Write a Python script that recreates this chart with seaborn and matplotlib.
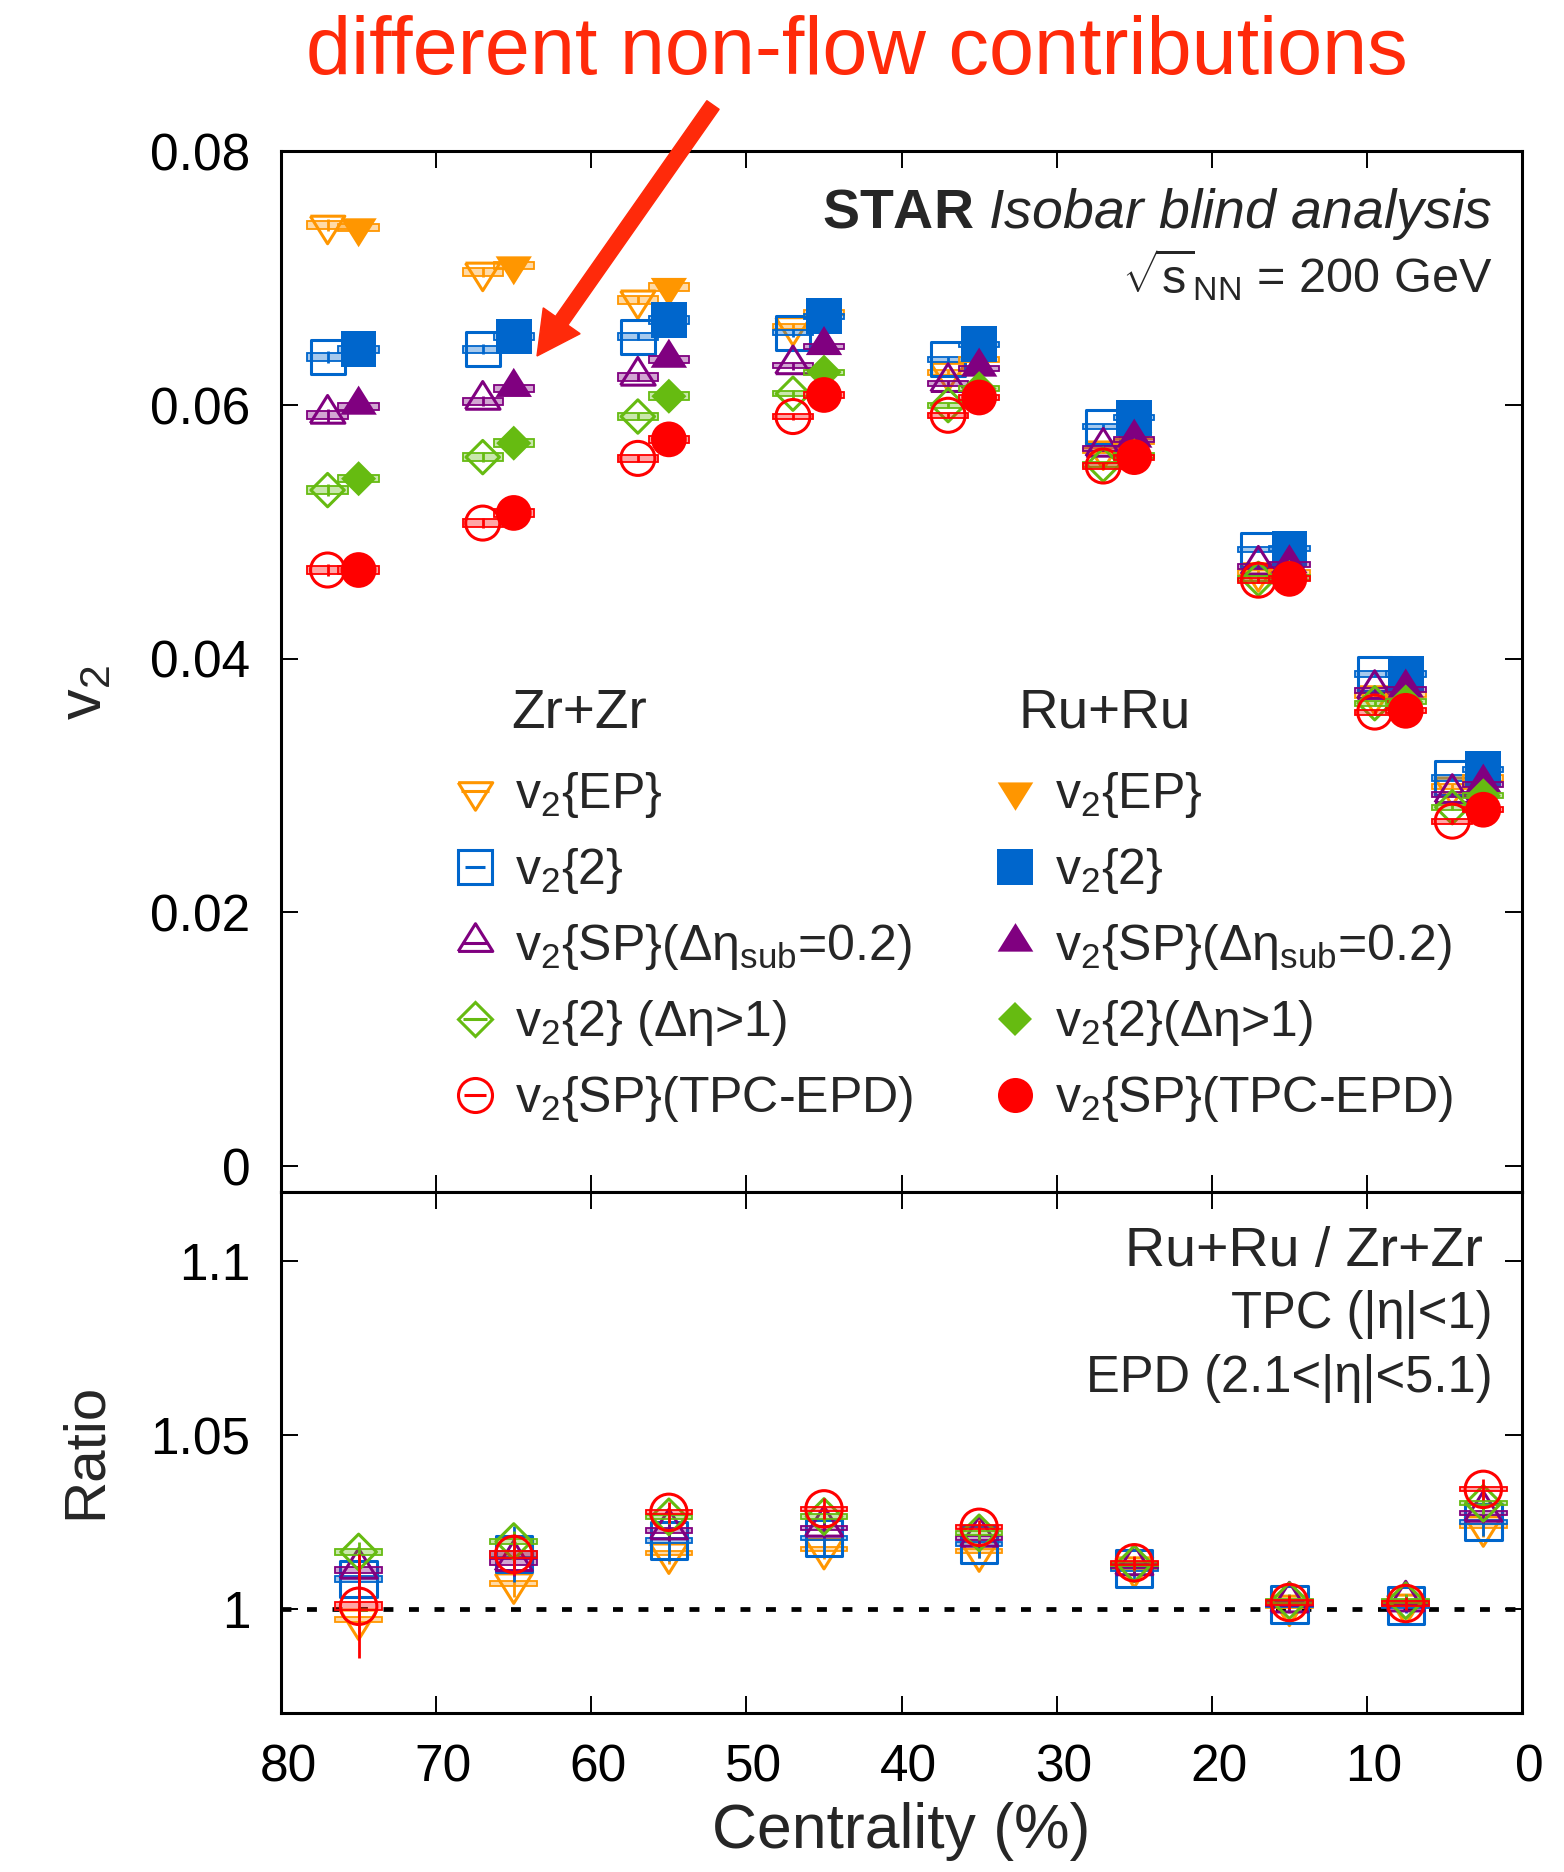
import numpy as np
import pandas as pd
import matplotlib
matplotlib.use("Agg")
import matplotlib.pyplot as plt
import seaborn as sns
from matplotlib.patches import Rectangle, FancyArrow
from matplotlib.lines import Line2D
from matplotlib.colors import to_rgba
from matplotlib.transforms import ScaledTranslation
from matplotlib.legend_handler import HandlerTuple

# ---------------- data ----------------
cent_ru = [75, 65, 55, 45, 35, 25, 15, 7.5, 2.5]
cent_zr = [77, 67, 57, 47, 37, 27, 17, 9.5, 4.5]

zr_ep   = [0.0742, 0.0705, 0.0683, 0.0662, 0.0626, 0.0564, 0.0468, 0.0371, 0.0299]
zr_v22  = [0.0638, 0.0644, 0.0654, 0.0657, 0.0636, 0.0583, 0.0486, 0.0388, 0.0306]
zr_sp   = [0.0592, 0.0603, 0.0622, 0.0631, 0.0617, 0.0566, 0.0473, 0.0375, 0.0293]
zr_deta = [0.0533, 0.0559, 0.0591, 0.0609, 0.0600, 0.0553, 0.0463, 0.0365, 0.0283]
zr_tpc  = [0.0470, 0.0507, 0.0558, 0.0591, 0.0592, 0.0552, 0.0462, 0.0358, 0.0272]

ru_ep   = [0.0740, 0.0710, 0.0693, 0.0673, 0.0636, 0.0571, 0.0468, 0.0372, 0.0306]
ru_v22  = [0.0644, 0.0654, 0.0667, 0.0670, 0.0648, 0.0590, 0.0487, 0.0388, 0.0313]
ru_sp   = [0.0599, 0.0613, 0.0636, 0.0646, 0.0629, 0.0573, 0.0474, 0.0376, 0.0301]
ru_deta = [0.0542, 0.0570, 0.0607, 0.0626, 0.0613, 0.0560, 0.0464, 0.0366, 0.0292]
ru_tpc  = [0.0470, 0.0515, 0.0573, 0.0608, 0.0606, 0.0559, 0.0463, 0.0359, 0.0281]

v2_stat = [0.0005, 0.0004, 0.0003, 0.0003, 0.0002, 0.0002, 0.0002, 0.0002, 0.0002]
v2_sys  = [0.0003, 0.0003, 0.0003, 0.0002, 0.0002, 0.0002, 0.0002, 0.0002, 0.0002]

r_ep   = [0.9970, 1.0074, 1.0160, 1.0173, 1.0166, 1.0120, 1.0010, 1.0013, 1.0238]
r_v22  = [1.0086, 1.0158, 1.0197, 1.0205, 1.0186, 1.0116, 1.0013, 1.0010, 1.0250]
r_sp   = [1.0113, 1.0135, 1.0226, 1.0234, 1.0205, 1.0123, 1.0016, 1.0019, 1.0277]
r_deta = [1.0164, 1.0194, 1.0265, 1.0266, 1.0219, 1.0130, 1.0024, 1.0024, 1.0304]
r_tpc  = [1.0008, 1.0157, 1.0278, 1.0288, 1.0235, 1.0133, 1.0019, 1.0016, 1.0344]

r_err_ep   = [0.004, 0.004, 0.003, 0.003, 0.002, 0.002, 0.002, 0.002, 0.003]
r_err_v22  = [0.005, 0.008, 0.006, 0.005, 0.004, 0.003, 0.002, 0.002, 0.004]
r_err_sp   = [0.004, 0.004, 0.003, 0.003, 0.002, 0.002, 0.002, 0.002, 0.003]
r_err_deta = [0.003, 0.003, 0.002, 0.002, 0.002, 0.002, 0.002, 0.002, 0.003]
r_err_tpc  = [0.015, 0.006, 0.003, 0.003, 0.002, 0.002, 0.002, 0.002, 0.003]
r_sys      = [0.0008, 0.0008, 0.0006, 0.0006, 0.0006, 0.0006, 0.0006, 0.0006, 0.0006]
r_sys_tpc  = [0.0012, 0.0010, 0.0006, 0.0006, 0.0006, 0.0006, 0.0006, 0.0006, 0.0006]

labels_zr = [r"v$_2${EP}", r"v$_2${2}", r"v$_2${SP}(Δη$_{\rm sub}$=0.2)",
             r"v$_2${2} (Δη>1)", r"v$_2${SP}(TPC-EPD)"]
labels_ru = [r"v$_2${EP}", r"v$_2${2}", r"v$_2${SP}(Δη$_{\rm sub}$=0.2)",
             r"v$_2${2}(Δη>1)", r"v$_2${SP}(TPC-EPD)"]
x_ticks = [80, 70, 60, 50, 40, 30, 20, 10, 0]
v2_ticks = [0, 0.02, 0.04, 0.06, 0.08]
v2_tick_labels = ["0", "0.02", "0.04", "0.06", "0.08"]
r_ticks = [1.0, 1.05, 1.1]
r_tick_labels = ["1", "1.05", "1.1"]

# ---------------- style ----------------
sns.set_theme(style="ticks")
plt.rcParams["font.family"] = ["Liberation Sans", "DejaVu Sans"]
plt.rcParams["mathtext.fontset"] = "custom"
plt.rcParams["mathtext.rm"] = "Liberation Sans"
plt.rcParams["mathtext.it"] = "Liberation Sans:italic"
plt.rcParams["mathtext.bf"] = "Liberation Sans:bold"
plt.rcParams["mathtext.sf"] = "Liberation Sans"

C_OR = "#ff9600"
C_BL = "#0066cc"
C_PU = "#800080"
C_GR = "#66bb11"
C_RD = "#ff0000"
C_AR = "#ff2a0a"

TRI_UP = [(-0.875, -0.4), (0.875, -0.4), (0.0, 1.0), (-0.875, -0.4)]
TRI_DN = [(-0.92, 0.47), (0.92, 0.47), (0.0, -1.0), (-0.92, 0.47)]

# marker, size(pt), color, legend inner line length(pt)
series_style = [
    (TRI_DN, 27.0, C_OR, 20),
    ("s", 24.5, C_BL, 15),
    (TRI_UP, 28.5, C_PU, 19),
    ("D", 17.0, C_GR, 17),
    ("o", 24.5, C_RD, 16),
]
zr_vals = [zr_ep, zr_v22, zr_sp, zr_deta, zr_tpc]
ru_vals = [ru_ep, ru_v22, ru_sp, ru_deta, ru_tpc]
r_vals = [r_ep, r_v22, r_sp, r_deta, r_tpc]
r_errs = [r_err_ep, r_err_v22, r_err_sp, r_err_deta, r_err_tpc]
r_syss = [r_sys, r_sys, r_sys, r_sys, r_sys_tpc]

fig = plt.figure(figsize=(15.64, 18.72), dpi=100)
ax = fig.add_axes([0.1797, 0.3635, 0.7935, 0.5556])
ax2 = fig.add_axes([0.1797, 0.0847, 0.7935, 0.2788])


def sys_boxes(axis, xs, ys, hs, hw, col, z):
    for xv, yv, hv in zip(xs, ys, hs):
        axis.add_patch(Rectangle((xv - hw, yv - hv), 2 * hw, 2 * hv,
                                 facecolor=to_rgba(col, 0.35), edgecolor=col,
                                 lw=1.3, zorder=z))


def draw_points(axis, xs, ys, marker, ms, col, filled, z):
    df = pd.DataFrame({"x": xs, "y": ys})
    if filled:
        sns.scatterplot(data=df, x="x", y="y", ax=axis, marker=marker, s=ms ** 2,
                        color=col, edgecolor="none", linewidth=0, zorder=z,
                        legend=False)
    else:
        sns.scatterplot(data=df, x="x", y="y", ax=axis, marker=marker, s=ms ** 2,
                        facecolor="none", edgecolor=col, linewidth=2.2, zorder=z,
                        legend=False)


# ---------------- top panel ----------------
for i, ((mk, ms, col, _), yv) in enumerate(zip(series_style, zr_vals)):
    z = 3 + i * 0.1
    sys_boxes(ax, cent_zr, yv, v2_sys, 1.3, col, z)
    ax.errorbar(cent_zr, yv, yerr=v2_stat, fmt="none", ecolor=col, elinewidth=2,
                capsize=0, zorder=z)
    draw_points(ax, cent_zr, yv, mk, ms, col, False, z + 0.05)
for i, ((mk, ms, col, _), yv) in enumerate(zip(series_style, ru_vals)):
    z = 4 + i * 0.1
    sys_boxes(ax, cent_ru, yv, v2_sys, 1.3, col, z)
    ax.errorbar(cent_ru, yv, yerr=v2_stat, fmt="none", ecolor=col, elinewidth=2,
                capsize=0, zorder=z)
    draw_points(ax, cent_ru, yv, mk, ms * 1.05, col, True, z + 0.05)

ax.set_xlim(80, 0)
ax.set_ylim(-0.002, 0.08)
ax.set_xticks(x_ticks)
ax.set_xticklabels([])
ax.set_yticks(v2_ticks)
ax.set_yticklabels(v2_tick_labels)
ax.set_xlabel("")
ax.set_ylabel("")

# ---------------- ratio panel ----------------
ax2.axhline(1.0, color="black", lw=3.4, ls=(0, (2.1, 3.3)), zorder=2)
for i, ((mk, ms, col, _), yv, ev, sv) in enumerate(zip(series_style, r_vals, r_errs, r_syss)):
    z = 3 + i * 0.1
    sys_boxes(ax2, cent_ru, yv, sv, 1.5, col, z)
    ax2.errorbar(cent_ru, yv, yerr=ev, fmt="none", ecolor=col, elinewidth=2,
                 capsize=0, zorder=z)
    draw_points(ax2, cent_ru, yv, mk, ms * 1.07, col, False, z + 0.05)

ax2.set_xlim(80, 0)
ax2.set_ylim(0.97, 1.12)
ax2.set_xticks(x_ticks)
ax2.set_xticklabels([str(t) for t in x_ticks])
ax2.set_yticks(r_ticks)
ax2.set_yticklabels(r_tick_labels)
ax2.set_xlabel("")
ax2.set_ylabel("")

for a in (ax, ax2):
    for sp in a.spines.values():
        sp.set_visible(True)
        sp.set_linewidth(2.2)
        sp.set_color("black")
    a.tick_params(axis="both", which="major", direction="in", length=12,
                  width=1.4, top=True, right=True, labelsize=37, colors="black")
    a.tick_params(axis="y", pad=22)
    a.tick_params(axis="x", pad=22)

shift = ScaledTranslation(0.07, 0, fig.dpi_scale_trans)
for lab in ax2.get_xticklabels():
    lab.set_transform(lab.get_transform() + shift)

# ---------------- legend ----------------
h_zr, h_ru = [], []
for mk, ms, col, ll in series_style:
    mark = Line2D([], [], ls="none", marker=mk, ms=ms, mfc="none", mec=col, mew=2.2)
    bar = Line2D([], [], ls="none", marker="_", ms=ll, mec=col, mew=2.2)
    h_zr.append((mark, bar))
    h_ru.append(Line2D([], [], ls="none", marker=mk, ms=ms * 1.03, mfc=col, mec=col, mew=0))
leg_kw = dict(fontsize=36, frameon=False, loc="upper left", borderpad=0,
              borderaxespad=0, handlelength=1.0, handletextpad=0.31,
              labelspacing=0.52)
leg1 = ax.legend(h_zr, labels_zr, bbox_to_anchor=(0.136, 0.405),
                 handler_map={tuple: HandlerTuple(ndivide=1)}, **leg_kw)
ax.add_artist(leg1)
ax.legend(h_ru, labels_ru, bbox_to_anchor=(0.571, 0.405), **leg_kw)
ax.text(0.1854, 0.4458, "Zr+Zr", transform=ax.transAxes, fontsize=39.5,
        ha="left", va="baseline")
ax.text(0.594, 0.4458, "Ru+Ru", transform=ax.transAxes, fontsize=39.5,
        ha="left", va="baseline")

# ---------------- annotations ----------------
ax.text(0.976, 0.9265, r"$\bf{STAR}$ $\it{Isobar\ blind\ analysis}$",
        transform=ax.transAxes, fontsize=40, ha="right", va="baseline")
ax.text(0.976, 0.8634, r"$\sqrt{\rm s}_{\rm NN}$ = 200 GeV",
        transform=ax.transAxes, fontsize=35, ha="right", va="baseline")

ax2.text(0.9686, 0.858, "Ru+Ru / Zr+Zr", transform=ax2.transAxes, fontsize=40,
         ha="right", va="baseline")
ax2.text(0.976, 0.7386, "TPC (|η|<1)", transform=ax2.transAxes, fontsize=36.5,
         ha="right", va="baseline")
ax2.text(0.976, 0.616, "EPD (2.1<|η|<5.1)", transform=ax2.transAxes, fontsize=36.5,
         ha="right", va="baseline")

fig.text(0.055, 0.630, r"v$_2$", rotation=90, fontsize=44, ha="center", va="center")
fig.text(0.055, 0.225, "Ratio", rotation=90, fontsize=42, ha="center", va="center")
fig.text(0.5764, 0.0128, "Centrality (%)", fontsize=45, ha="center", va="baseline")

fig.text(0.548, 0.9605, "different non-flow contributions", fontsize=58.3,
         color=C_AR, ha="center", va="baseline")
arrow = FancyArrow(7.13, 17.67, -1.76, -2.51, width=0.15, head_width=0.45,
                   head_length=0.43, length_includes_head=True, color=C_AR,
                   transform=fig.dpi_scale_trans)
fig.add_artist(arrow)

fig.savefig("out.png", dpi=100)
